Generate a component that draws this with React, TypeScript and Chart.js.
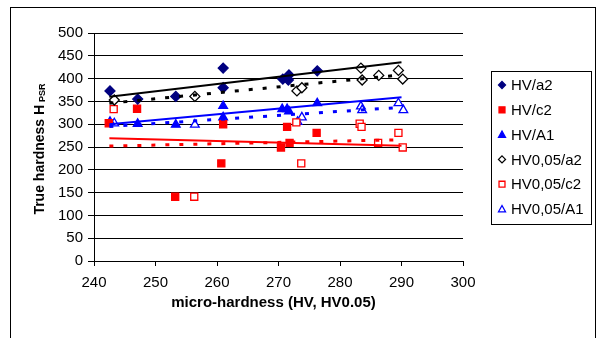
import React, { useEffect, useRef } from "react";
import { Chart, registerables } from "chart.js";

Chart.register(...registerables);

// ---- data ----
const hvA2X = [242.6, 247.1, 253.3, 261.0, 261.0, 270.7, 271.6, 271.7, 276.3];
const hvA2Y = [373, 355, 361, 423, 380, 399, 397, 408, 417];

const hvC2X = [242.4, 247.0, 253.2, 260.7, 261.0, 270.4, 271.4, 271.8, 276.2];
const hvC2Y = [302, 334, 141, 214, 300, 249, 294, 259, 281];

const hvA1X = [242.6, 247.1, 253.3, 261.0, 261.0, 270.6, 271.4, 271.7, 276.3];
const hvA1Y = [305, 301, 299, 340, 315, 333, 333, 328, 346];

const hv005A2X = [243.3, 256.4, 273.0, 273.8, 283.4, 283.6, 286.3, 289.5, 290.2];
const hv005A2Y = [353, 361, 373, 380, 423, 397, 407, 418, 399];

const hv005C2X = [243.2, 256.3, 272.9, 273.7, 283.2, 283.5, 286.2, 289.5, 290.2];
const hv005C2Y = [333, 141, 304, 214, 301, 294, 259, 281, 249];

const hv005A1X = [243.3, 256.4, 273.1, 273.8, 283.4, 283.6, 289.5, 290.3];
const hv005A1Y = [302, 299, 305, 315, 339, 331, 346, 331];

// trend line end points [x0, x1] / [y0, y1]
const trendX = [242.5, 290];
const trendHvA2Y = [360, 436];
const trendHv005A2Y = [346, 408];
const trendHvC2Y = [269, 253];
const trendHv005C2Y = [252, 266];
const trendHvA1Y = [300, 359];
const trendHv005A1Y = [295, 337];

const seriesNames = ["HV/a2", "HV/c2", "HV/A1", "HV0,05/a2", "HV0,05/c2", "HV0,05/A1"];
const xTicksMin = 240;
const xTicksMax = 300;
const yTicksMin = 0;
const yTicksMax = 500;

const FONT = "'Liberation Sans', Arial, sans-serif";
const NAVY = "#000080";
const RED = "#FF0000";
const BLUE = "#0000FF";

const pts = (xs: number[], ys: number[]) => xs.map((x, i) => ({ x, y: ys[i] }));

type Marker = { style: string; fill: string; stroke: string };
const markers: Marker[] = [
  { style: "diamond", fill: NAVY, stroke: NAVY },
  { style: "square", fill: RED, stroke: RED },
  { style: "triangle", fill: BLUE, stroke: BLUE },
  { style: "diamond", fill: "#FFFFFF", stroke: "#000000" },
  { style: "square", fill: "#FFFFFF", stroke: RED },
  { style: "triangle", fill: "#FFFFFF", stroke: BLUE },
];

function drawMarker(ctx: CanvasRenderingContext2D, m: Marker, x: number, y: number, s: number) {
  ctx.save();
  ctx.beginPath();
  if (m.style === "diamond") {
    ctx.moveTo(x, y - s);
    ctx.lineTo(x + s, y);
    ctx.lineTo(x, y + s);
    ctx.lineTo(x - s, y);
  } else if (m.style === "square") {
    const h = s * 0.85;
    ctx.rect(x - h, y - h, 2 * h, 2 * h);
  } else {
    ctx.moveTo(x, y - s);
    ctx.lineTo(x + s, y + s * 0.8);
    ctx.lineTo(x - s, y + s * 0.8);
  }
  ctx.closePath();
  ctx.fillStyle = m.fill;
  ctx.fill();
  ctx.lineWidth = 1.3;
  ctx.strokeStyle = m.stroke;
  ctx.stroke();
  ctx.restore();
}

const decorPlugin = {
  id: "decor",
  afterDraw(chart: any) {
    const ctx: CanvasRenderingContext2D = chart.ctx;
    const area = chart.chartArea;
    ctx.save();
    // outer frame
    ctx.strokeStyle = "#000";
    ctx.lineWidth = 1;
    ctx.strokeRect(10.5, 7.5, 585, 400);

    // y title with subscript
    ctx.save();
    ctx.translate(40, 149);
    ctx.rotate(-Math.PI / 2);
    ctx.fillStyle = "#000";
    ctx.textBaseline = "middle";
    const main = "True hardness H";
    const sub = "PSR";
    ctx.font = `bold 14px ${FONT}`;
    const wMain = ctx.measureText(main).width + 3;
    ctx.font = `bold 9px ${FONT}`;
    const wSub = ctx.measureText(sub).width;
    const start = -(wMain + wSub) / 2;
    ctx.font = `bold 14px ${FONT}`;
    ctx.textAlign = "left";
    ctx.fillText(main, start, 0);
    ctx.font = `bold 9px ${FONT}`;
    ctx.fillText(sub, start + wMain, 3);
    ctx.restore();

    // x title
    ctx.fillStyle = "#000";
    ctx.font = `bold 15px ${FONT}`;
    ctx.textAlign = "center";
    ctx.textBaseline = "middle";
    ctx.fillText("micro-hardness (HV, HV0.05)", 273.5, 303);

    // legend
    ctx.strokeStyle = "#000";
    ctx.lineWidth = 1;
    ctx.strokeRect(491.5, 71.5, 100, 153);
    ctx.font = `15px ${FONT}`;
    ctx.textAlign = "left";
    ctx.textBaseline = "middle";
    seriesNames.forEach((name, i) => {
      const y = 85 + i * 24.8;
      drawMarker(ctx, markers[i], 502, y, 3.5);
      ctx.fillStyle = "#000";
      ctx.fillText(name, 511, y + 1);
    });
    ctx.restore();
  },
};

export default function App() {
  const ref = useRef<HTMLCanvasElement | null>(null);

  useEffect(() => {
    if (!ref.current) return;
    const pointDs = (label: string, xs: number[], ys: number[], m: Marker, r: number) => ({
      type: "scatter" as const,
      label,
      data: pts(xs, ys),
      pointStyle: m.style === "diamond" ? "rectRot" : m.style === "square" ? "rect" : "triangle",
      pointRadius: r,
      pointBackgroundColor: m.fill,
      pointBorderColor: m.stroke,
      pointBorderWidth: 1.3,
      showLine: false,
      order: 2,
    });
    const trendDs = (ys: number[], color: string, dashed: boolean) => ({
      type: "scatter" as const,
      label: "trend",
      data: pts(trendX, ys),
      showLine: true,
      borderColor: color,
      borderWidth: dashed ? 3 : 2,
      borderDash: dashed ? [4, 10] : [],
      pointRadius: 0,
      fill: false,
      order: 1,
    });

    const chart = new Chart(ref.current, {
      type: "scatter",
      data: {
        datasets: [
          pointDs(seriesNames[0], hvA2X, hvA2Y, markers[0], 5),
          pointDs(seriesNames[1], hvC2X, hvC2Y, markers[1], 5),
          pointDs(seriesNames[2], hvA1X, hvA1Y, markers[2], 5),
          pointDs(seriesNames[3], hv005A2X, hv005A2Y, markers[3], 5),
          pointDs(seriesNames[4], hv005C2X, hv005C2Y, markers[4], 5),
          pointDs(seriesNames[5], hv005A1X, hv005A1Y, markers[5], 5),
          trendDs(trendHvA2Y, "#000000", false),
          trendDs(trendHv005A2Y, "#000000", true),
          trendDs(trendHvC2Y, RED, false),
          trendDs(trendHv005C2Y, RED, true),
          trendDs(trendHvA1Y, BLUE, false),
          trendDs(trendHv005A1Y, BLUE, true),
        ] as any,
      },
      options: {
        animation: false,
        responsive: false,
        maintainAspectRatio: false,
        layout: { padding: { left: 0, top: 33, right: 135, bottom: 0 } },
        plugins: {
          legend: { display: false },
          tooltip: { enabled: false },
          title: { display: false },
        },
        scales: {
          x: {
            type: "linear",
            min: xTicksMin,
            max: xTicksMax,
            afterFit: (s: any) => {
              s.height = 77;
            },
            ticks: { stepSize: 10, color: "#000", font: { family: FONT, size: 15 }, padding: 8 },
            grid: { display: true, drawOnChartArea: false, drawTicks: true, tickLength: 5, color: "#000" },
            border: { display: true, color: "#000", width: 1 },
          },
          y: {
            type: "linear",
            min: yTicksMin,
            max: yTicksMax,
            afterFit: (s: any) => {
              s.width = 94;
            },
            ticks: { stepSize: 50, color: "#000", font: { family: FONT, size: 15 }, padding: 5 },
            grid: { display: true, drawOnChartArea: true, drawTicks: true, tickLength: 6, color: "#000" },
            border: { display: true, color: "#000", width: 1 },
          },
        },
      } as any,
      plugins: [decorPlugin],
    });
    return () => chart.destroy();
  }, []);

  return (
    <div style={{ position: "absolute", left: 0, top: 0, width: 598, height: 338, background: "#fff" }}>
      <canvas ref={ref} width={598} height={338} style={{ width: 598, height: 338, display: "block" }} />
    </div>
  );
}
